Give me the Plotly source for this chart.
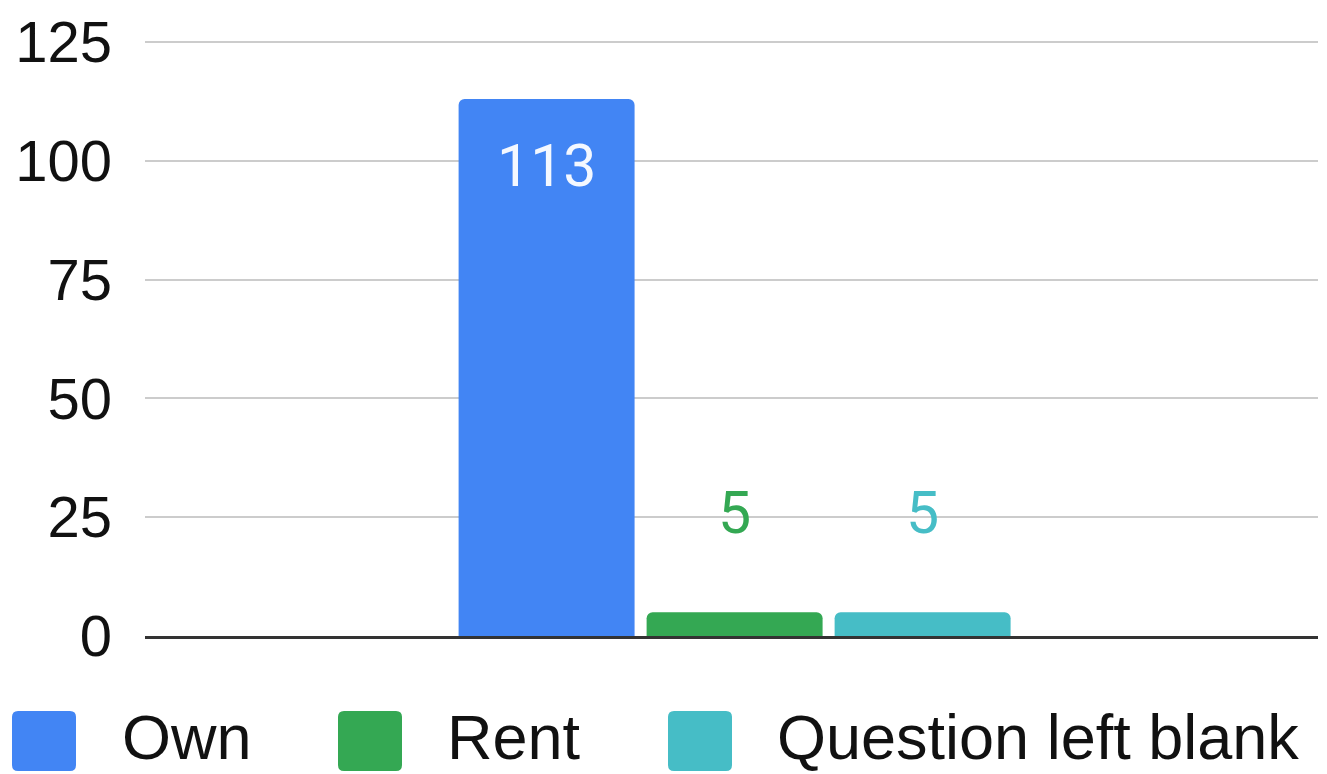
import plotly.graph_objects as go

# Survey answers: home ownership
categories = ["Own", "Rent", "Question left blank"]
counts = [113, 5, 5]
colors = ["#4285F4", "#34A853", "#46BDC6"]
y_ticks = [0, 25, 50, 75, 100, 125]

W, H = 1327, 774
M_L, M_R, M_T, M_B = 145, 9, 36, 138
FONT = "Liberation Sans, Arial, sans-serif"
LABEL_FONT = "Roboto, Liberation Sans, sans-serif"

fig = go.Figure()
for name, val, col in zip(categories, counts, colors):
    fig.add_trace(go.Bar(
        x=[name], y=[val], name=name, marker=dict(color=col, line=dict(width=0)),
        width=0.936, showlegend=False, hoverinfo="x+y",
    ))

# value labels: inside the tall bar, above the short ones
annotations = []
for name, val, col in zip(categories, counts, colors):
    inside = val > 50
    annotations.append(dict(
        x=name, y=val, xref="x", yref="y", text=str(val), showarrow=False,
        yanchor="middle", yshift=-67 if inside else 100,
        font=dict(family=LABEL_FONT, size=59, color="#F4F8FF" if inside else col),
    ))

# legend row drawn below the plot (pixel offsets from the plot's left edge)
plot_w = W - M_L - M_R
plot_h = H - M_T - M_B
base_px = H - M_B  # pixel row of the plot's bottom edge
legend_sq = [12, 338, 668]
legend_tx = [121, 446, 776]
shapes = []
sq_w, sq_h, r = 64, 60, 6
for sx, tx, name, col in zip(legend_sq, legend_tx, categories, colors):
    x0 = sx - M_L
    x1 = x0 + sq_w
    # y pixel offsets relative to paper y=0 (bottom of plot), upward positive
    ytop = base_px - 711
    ybot = ytop - sq_h
    path = (f"M{x0 + r},{ytop} L{x1 - r},{ytop} Q{x1},{ytop} {x1},{ytop - r} "
            f"L{x1},{ybot + r} Q{x1},{ybot} {x1 - r},{ybot} L{x0 + r},{ybot} "
            f"Q{x0},{ybot} {x0},{ybot + r} L{x0},{ytop - r} Q{x0},{ytop} {x0 + r},{ytop} Z")
    shapes.append(dict(
        type="path", xref="paper", yref="paper", xsizemode="pixel", ysizemode="pixel",
        xanchor=0, yanchor=0, path=path, fillcolor=col, line=dict(width=0), layer="above",
    ))
    annotations.append(dict(
        x=(tx - M_L) / plot_w, y=-M_B / plot_h,
        xref="paper", yref="paper",
        text=name, showarrow=False, xanchor="left", yanchor="bottom",
        borderpad=0,
        font=dict(family=FONT, size=63, color="#111111"),
    ))

fig.update_layout(
    width=W, height=H, margin=dict(l=M_L, r=M_R, t=M_T, b=M_B),
    paper_bgcolor="#FFFFFF", plot_bgcolor="#FFFFFF",
    barmode="overlay", showlegend=False,
    font=dict(family=FONT, color="#111111"),
    xaxis=dict(type="category", range=[-2.136, 4.103], showticklabels=False,
               showgrid=False, zeroline=False, showline=True, linecolor="#333333",
               linewidth=3, fixedrange=True),
    yaxis=dict(range=[0, 125.4], tickvals=y_ticks, showgrid=True, gridcolor="#CCCCCC",
               gridwidth=2, zeroline=False, showline=False,
               tickfont=dict(family=FONT, size=58, color="#111111"),
               ticklabelstandoff=32),
    shapes=shapes,
    annotations=annotations,
    barcornerradius=6,
)

fig.write_html("out.html")
